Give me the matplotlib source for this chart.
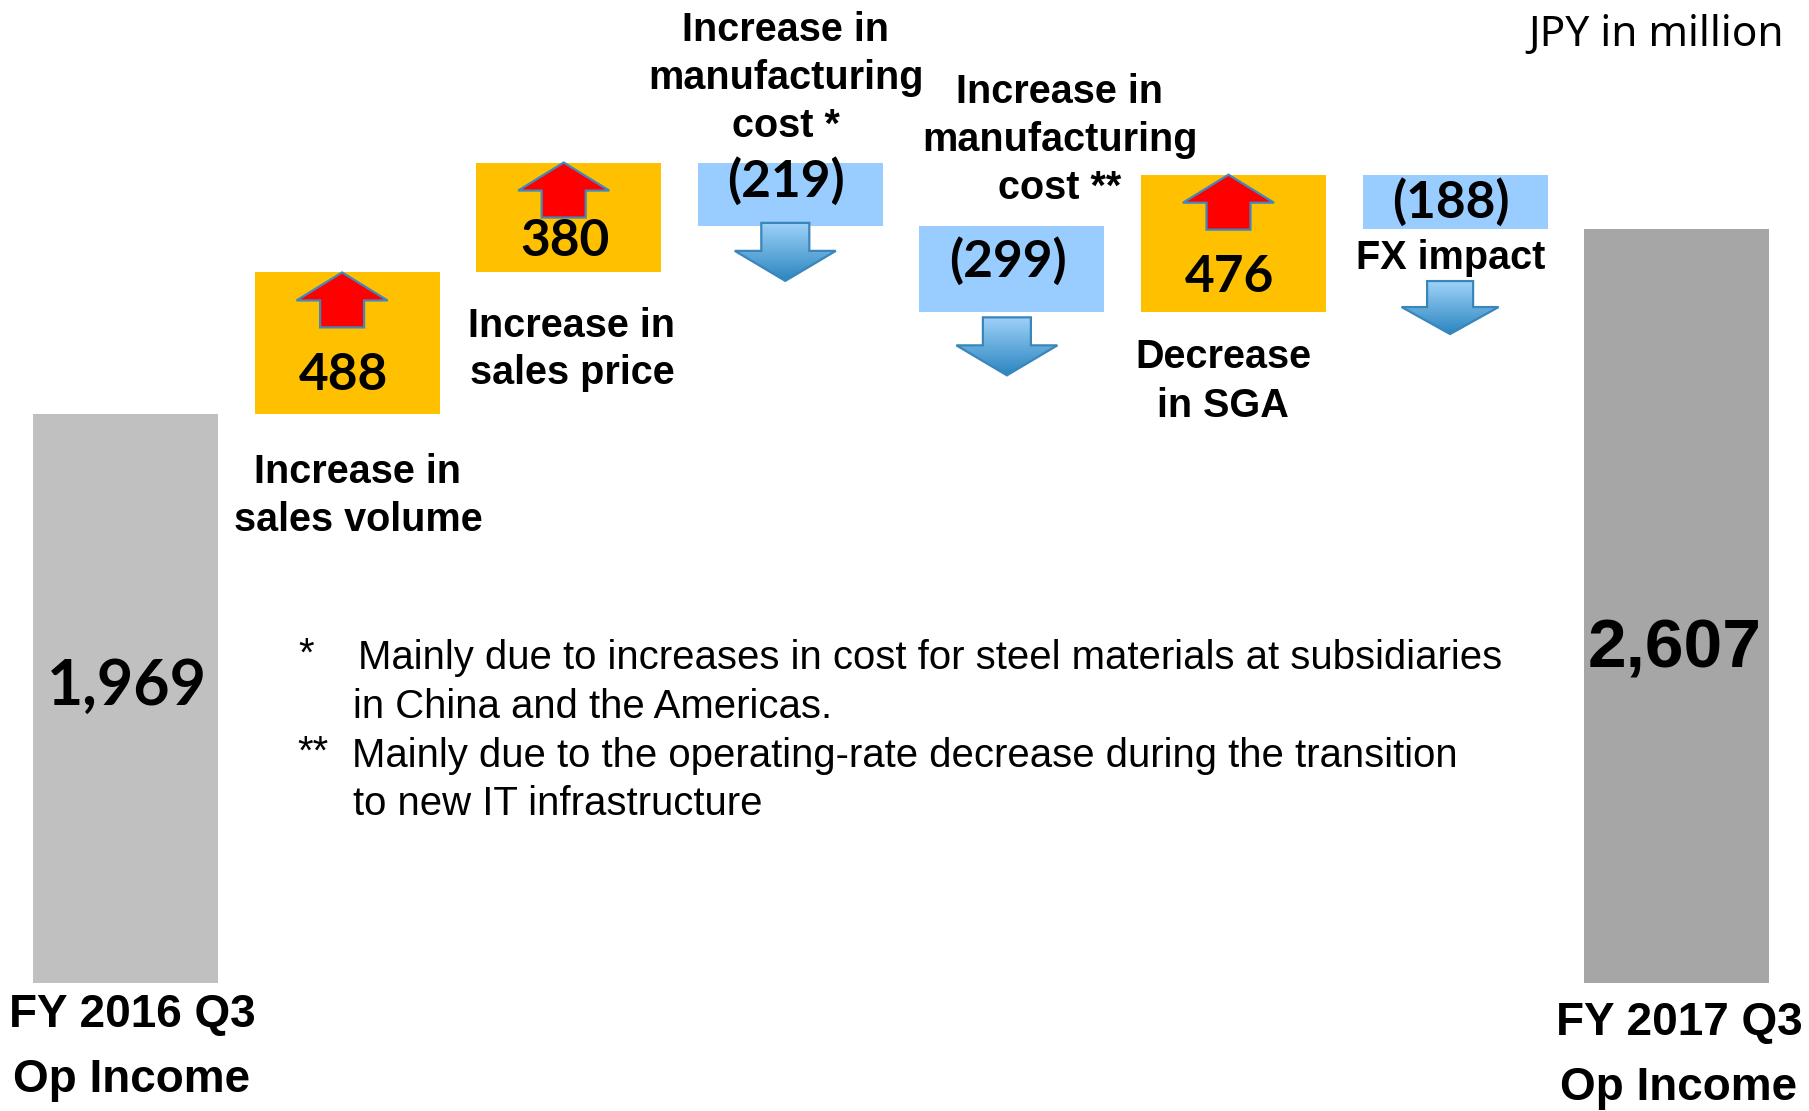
import numpy as np
import matplotlib
matplotlib.use('Agg')
import matplotlib.pyplot as plt
from matplotlib.patches import Polygon
from matplotlib.colors import LinearSegmentedColormap

# data
steps = ['FY 2016 Q3 Op Income', 'sales volume', 'sales price', 'mfg cost *',
         'mfg cost **', 'SGA', 'FX impact', 'FY 2017 Q3 Op Income']
values = [1969, 488, 380, -219, -299, 476, -188, 2607]
value_labels = ['1,969', '488', '380', '(219)', '(299)', '476', '(188)', '2,607']
kinds = ['total', 'delta', 'delta', 'delta', 'delta', 'delta', 'delta', 'total']

# layout in pixels of the 1809x1111 picture
W, H = 1809, 1111
X0, XS = 125.5, 221.6      # px of first bar centre, px per category
Y0, YS = 983.0, 0.2892     # px of zero line, px per unit


def dx(px):
    return px / XS


def dy(px):
    return px / YS


def fx(px):
    return px / W


def fy(py):
    return 1 - py / H


fig = plt.figure(figsize=(W / 100, H / 100), dpi=100)
ax = fig.add_axes([0, 0, 1, 1])
ax.axis('off')

# waterfall bottoms
bottoms = []
heights = []
run = 0
for v, k in zip(values, kinds):
    if k == 'total':
        bottoms.append(0)
        heights.append(v)
        run = v
    else:
        if v >= 0:
            bottoms.append(run)
        else:
            bottoms.append(run + v)
        heights.append(abs(v))
        run += v

colors = []
for i, (v, k) in enumerate(zip(values, kinds)):
    if k == 'total':
        colors.append('#C0C0C0' if i == 0 else '#A6A6A6')
    elif v >= 0:
        colors.append('#FFC000')
    else:
        colors.append('#99CCFF')

xs = np.arange(len(values))
ax.bar(xs, heights, bottom=bottoms, width=dx(185), color=colors, linewidth=0, zorder=1)

# arrows
up_edge = '#3F89BD'
down_edge = '#3A86BA'
grad = LinearSegmentedColormap.from_list('g', ['#2C86C0', '#9FD2FA'])
down_gap = {3: -3, 4: 5, 6: 52}     # px between bar bottom and arrow top
label_off = {1: 38, 2: 31, 5: 35, 3: 13, 4: 8, 6: -1}   # px above bottom (up) / above centre (down)

for i, (v, k) in enumerate(zip(values, kinds)):
    if k == 'total':
        continue
    xc = xs[i] - dx(5)
    if v >= 0:
        yt = bottoms[i] + heights[i]
        hw, sw, hh, th = dx(45.5), dx(22), dy(28), dy(55)
        pts = [(xc, yt), (xc + hw, yt - hh), (xc + sw, yt - hh), (xc + sw, yt - th),
               (xc - sw, yt - th), (xc - sw, yt - hh), (xc - hw, yt - hh)]
        ax.add_patch(Polygon(pts, closed=True, facecolor='#FF0000', edgecolor=up_edge,
                             linewidth=1.6, zorder=3))
        ty = bottoms[i] + dy(label_off[i])
    else:
        yt = bottoms[i] - dy(down_gap[i])
        if i == 6:
            hw, sw, hh, th = dx(48.5), dx(23), dy(27), dy(53)
        else:
            hw, sw, hh, th = dx(50.5), dx(24), dy(30), dy(58)
        pts = [(xc - sw, yt), (xc + sw, yt), (xc + sw, yt - th + hh), (xc + hw, yt - th + hh),
               (xc, yt - th), (xc - hw, yt - th + hh), (xc - sw, yt - th + hh)]
        poly = Polygon(pts, closed=True, facecolor='none', edgecolor=down_edge,
                       linewidth=1.6, zorder=4)
        ax.add_patch(poly)
        img = ax.imshow(np.linspace(0, 1, 64).reshape(-1, 1), cmap=grad, origin='lower',
                        extent=[xc - hw, xc + hw, yt - th, yt], aspect='auto', zorder=3)
        img.set_clip_path(poly)
        ty = bottoms[i] + heights[i] / 2 + dy(label_off[i])
    ax.text(xs[i] - dx(4), ty, value_labels[i], ha='center', va='center',
            fontsize=37, fontweight='bold', family='Lato', zorder=5)

# totals
ax.text(xs[0] + dx(1.5), dy(Y0 - 687), value_labels[0], ha='center', va='center',
        fontsize=45, fontweight='bold', family='Lato', zorder=5)
ax.text(xs[7] - dx(2), dy(Y0 - 650), value_labels[7], ha='center', va='center',
        fontsize=50, fontweight='bold', family='Liberation Sans', zorder=5)

ax.set_xlim(-X0 / XS, (W - X0) / XS)
ax.set_ylim(-(H - Y0) / YS, Y0 / YS)


def lines(cx, ys, texts, size=28.5):
    for y, t in zip(ys, texts):
        fig.text(fx(cx), fy(y), t, ha='center', va='center', fontsize=size,
                 fontweight='bold', family='Liberation Sans')


lines(358, [472, 520], ['Increase in', 'sales volume'])
lines(572, [326, 373], ['Increase in', 'sales price'])
lines(786, [30, 78, 126], ['Increase in', 'manufacturing', 'cost *'])
lines(1060, [92, 140, 188], ['Increase in', 'manufacturing', 'cost **'])
lines(1223, [357, 406], ['Decrease', 'in SGA'])
lines(1451, [258], ['FX impact'])
lines(132, [1015, 1080], ['FY 2016 Q3', 'Op Income'], size=33)
lines(1679, [1023, 1088], ['FY 2017 Q3', 'Op Income'], size=33)

# footnotes
note_kw = dict(ha='left', va='center', fontsize=28.9, family='Liberation Sans')
fig.text(fx(298), fy(655), '*', **note_kw)
fig.text(fx(358), fy(658), 'Mainly due to increases in cost for steel materials at subsidiaries', **note_kw)
fig.text(fx(353), fy(707), 'in China and the Americas.', **note_kw)
fig.text(fx(297), fy(753), '**', **note_kw)
fig.text(fx(352), fy(756), 'Mainly due to the operating-rate decrease during the transition', **note_kw)
fig.text(fx(353), fy(804), 'to new IT infrastructure', **note_kw)

fig.text(fx(1784), fy(35), 'JPY in million', ha='right', va='center', fontsize=30.5,
         family='Noto Sans')

fig.savefig('out.png', dpi=100)
